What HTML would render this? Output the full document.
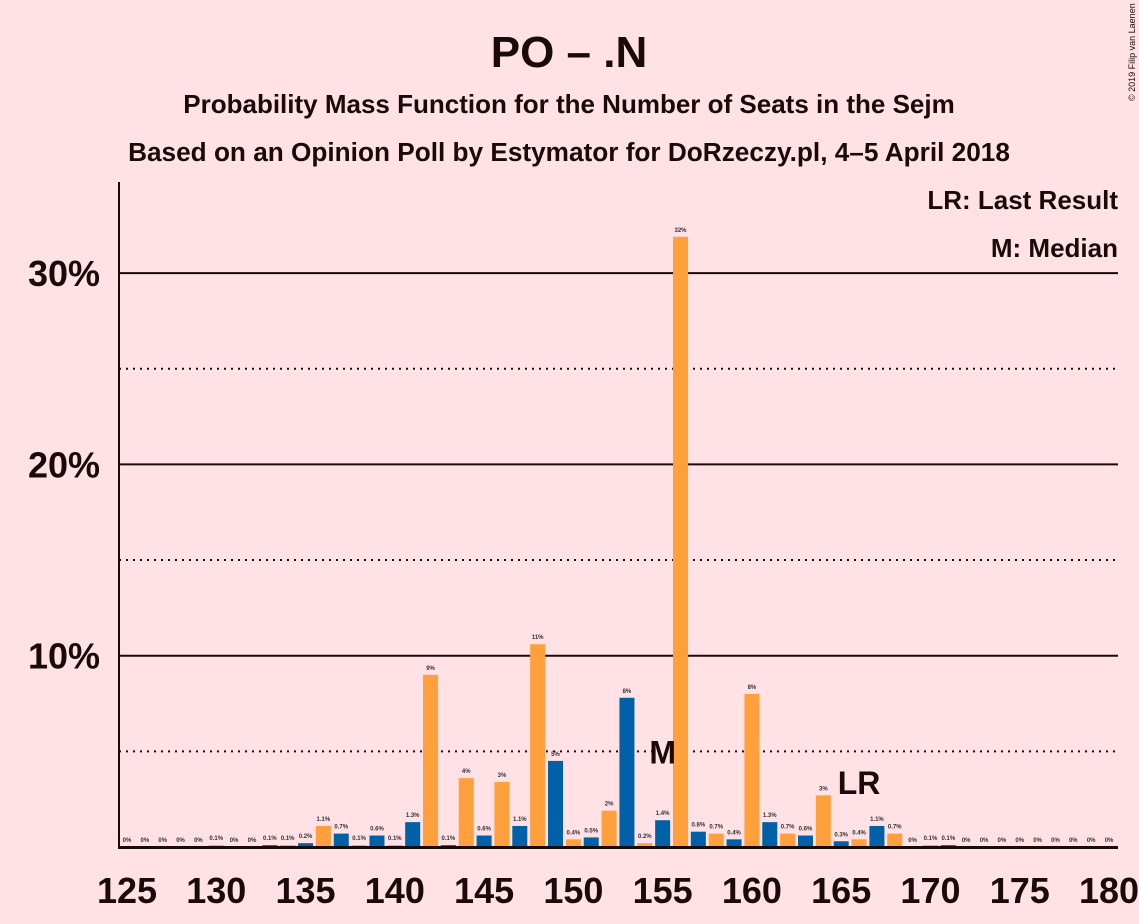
<!DOCTYPE html>
<html><head><meta charset="utf-8"><style>
body{margin:0;background:#ffe1e6;font-family:"Liberation Sans",sans-serif}
svg{display:block}
</style></head><body>
<svg width="1139" height="924" viewBox="0 0 1139 924" id="chart">
<rect width="1139" height="924" fill="#ffe1e6"/>
<text x="569" y="67" text-anchor="middle" font-size="44" font-weight="bold" fill="#1a0a0a">PO – .N</text>
<text x="569" y="113" text-anchor="middle" font-size="26" font-weight="bold" fill="#1a0a0a">Probability Mass Function for the Number of Seats in the Sejm</text>
<text x="569" y="161" text-anchor="middle" font-size="26.2" font-weight="bold" fill="#1a0a0a">Based on an Opinion Poll by Estymator for DoRzeczy.pl, 4–5 April 2018</text>
<text transform="translate(1135,101) rotate(-90)" font-size="9" fill="#1a0a0a">© 2019 Filip van Laenen</text>
<text x="1118" y="209" text-anchor="end" font-size="26" font-weight="bold" fill="#1a0a0a">LR: Last Result</text>
<text x="1118" y="257" text-anchor="end" font-size="26" font-weight="bold" fill="#1a0a0a">M: Median</text>
<g id="grid"></g><g id="bars"></g><g id="axes"></g>
</svg>
<script>
const seats=[125,126,127,128,129,130,131,132,133,134,135,136,137,138,139,140,141,142,143,144,145,146,147,148,149,150,151,152,153,154,155,156,157,158,159,160,161,162,163,164,165,166,167,168,169,170,171,172,173,174,175,176,177,178,179,180];
const values=[0,0,0,0,0,0.1,0,0,0.1,0.1,0.2,1.1,0.7,0.1,0.6,0.1,1.3,9.0,0.1,3.6,0.6,3.4,1.1,10.6,4.5,0.4,0.5,1.9,7.8,0.2,1.4,31.9,0.8,0.7,0.4,8.0,1.3,0.7,0.6,2.7,0.3,0.4,1.1,0.7,0,0.1,0.1,0,0,0,0,0,0,0,0,0];
const labels=["0%","0%","0%","0%","0%","0.1%","0%","0%","0.1%","0.1%","0.2%","1.1%","0.7%","0.1%","0.6%","0.1%","1.3%","9%","0.1%","4%","0.6%","3%","1.1%","11%","5%","0.4%","0.5%","2%","8%","0.2%","1.4%","32%","0.8%","0.7%","0.4%","8%","1.3%","0.7%","0.6%","3%","0.3%","0.4%","1.1%","0.7%","0%","0.1%","0.1%","0%","0%","0%","0%","0%","0%","0%","0%","0%"];
const xTicks=[125,130,135,140,145,150,155,160,165,170,175,180];
const yTicks=[10,20,30];
const yDotted=[5,15,25];
const median=155, lastResult=166;
const NS="http://www.w3.org/2000/svg";
const x=s=>127+(s-125)*17.855;
const y=v=>847-v*19.13;
function mk(t,a,p){const e=document.createElementNS(NS,t);for(const k in a)e.setAttribute(k,a[k]);p.appendChild(e);return e;}
const grid=document.getElementById('grid'),bars=document.getElementById('bars'),axes=document.getElementById('axes');
yTicks.forEach(v=>{
 const l=mk('line',{x1:119,x2:1118,y1:y(v),y2:y(v),stroke:'#1a0a0a','stroke-width':2},grid);
 
 
 const t=mk('text',{x:100,y:y(v)+13,'text-anchor':'end','font-size':36,'font-weight':'bold',fill:'#1a0a0a'},axes);
 t.textContent=v+'%';
 
 
});
yDotted.forEach(v=>{
 const l=mk('line',{x1:119,x2:1118,y1:y(v),y2:y(v),stroke:'#1a0a0a','stroke-width':2,'stroke-dasharray':'2 5'},grid);
 
 
});
seats.forEach((s,i)=>{
 const v=values[i];
 if(v>0){
  const r=mk('rect',{x:x(s)-7.5,y:y(v),width:15,height:847-y(v),fill:s%2?'#0060a8':'#ffa03c'},bars);
  
  
 }
 const t=mk('text',{x:x(s),y:y(v)-5,'text-anchor':'middle','font-size':6,'font-weight':'bold',fill:'#333'},bars);
 t.textContent=labels[i];
 
 
});
const m=mk('text',{x:x(median),y:y(5)+12,'text-anchor':'middle','font-size':32,'font-weight':'bold',fill:'#1a0a0a'},bars);
m.textContent='M';


const lr=mk('text',{x:x(lastResult),y:y(3.3)+10,'text-anchor':'middle','font-size':32,'font-weight':'bold',fill:'#1a0a0a'},bars);
lr.textContent='LR';


const ya=mk('line',{x1:119,x2:119,y1:182,y2:848,stroke:'#1a0a0a','stroke-width':2},axes);


const xa=mk('line',{x1:118,x2:1118,y1:847.5,y2:847.5,stroke:'#1a0a0a','stroke-width':3},axes);


xTicks.forEach(s=>{
 const t=mk('text',{x:x(s),y:903,'text-anchor':'middle','font-size':36,'font-weight':'bold',fill:'#1a0a0a'},axes);
 t.textContent=s;
 
 
});
</script>
</body></html>
